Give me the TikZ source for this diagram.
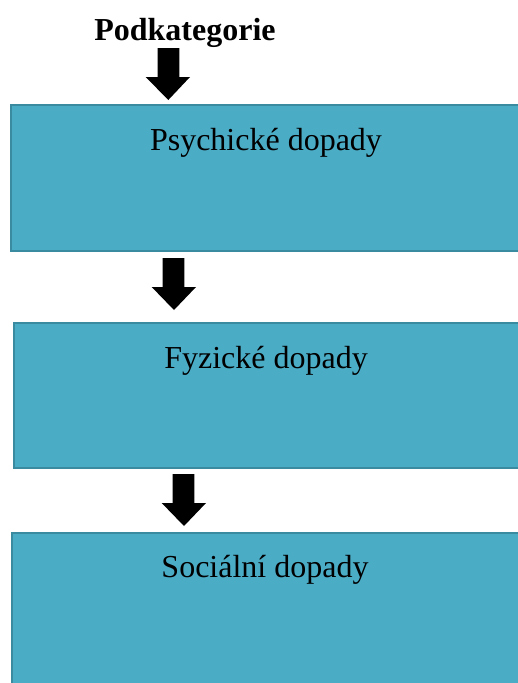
\documentclass[tikz,border=0pt]{standalone}
\usepackage{fontspec}
\setmainfont{Liberation Serif}
\definecolor{boxfill}{HTML}{4BACC6}
\definecolor{boxline}{HTML}{3A8AA0}
\begin{document}
\begin{tikzpicture}[x=1pt,y=-1pt,
  stage/.style={fill=boxfill,draw=boxline,line width=2.5pt},
  lbl/.style={font=\fontsize{32}{38}\selectfont,inner sep=0pt,anchor=base},
  blockarrow/.style={fill=black}]
\useasboundingbox (0,0) rectangle (518,683);
\begin{scope}
\clip (0,0) rectangle (518,683);
\draw[stage] (11,105) rectangle (540,251);
\draw[stage] (14,323) rectangle (540,468);
\draw[stage] (12,533) rectangle (540,720);
\end{scope}
\node[lbl,font=\fontsize{32}{38}\selectfont\bfseries] (title) at (185,40) {Podkategorie};
\node[lbl] (t1) at (266,150) {Psychické dopady};
\node[lbl] (t2) at (266,368) {Fyzické dopady};
\node[lbl] (t3) at (265,577) {Sociální dopady};
\fill[blockarrow] (157.5,48) -- (179.3,48) -- (179.3,77) -- (190,77) -- (168.3,100) -- (145.7,77) -- (157.5,77) -- cycle;
\fill[blockarrow] (162.7,258) -- (184.3,258) -- (184.3,287) -- (196,287) -- (174,310) -- (151.7,287) -- (162.7,287) -- cycle;
\fill[blockarrow] (172.7,474) -- (194.3,474) -- (194.3,503) -- (206,503) -- (184,526) -- (161.7,503) -- (172.7,503) -- cycle;
\end{tikzpicture}
\end{document}
